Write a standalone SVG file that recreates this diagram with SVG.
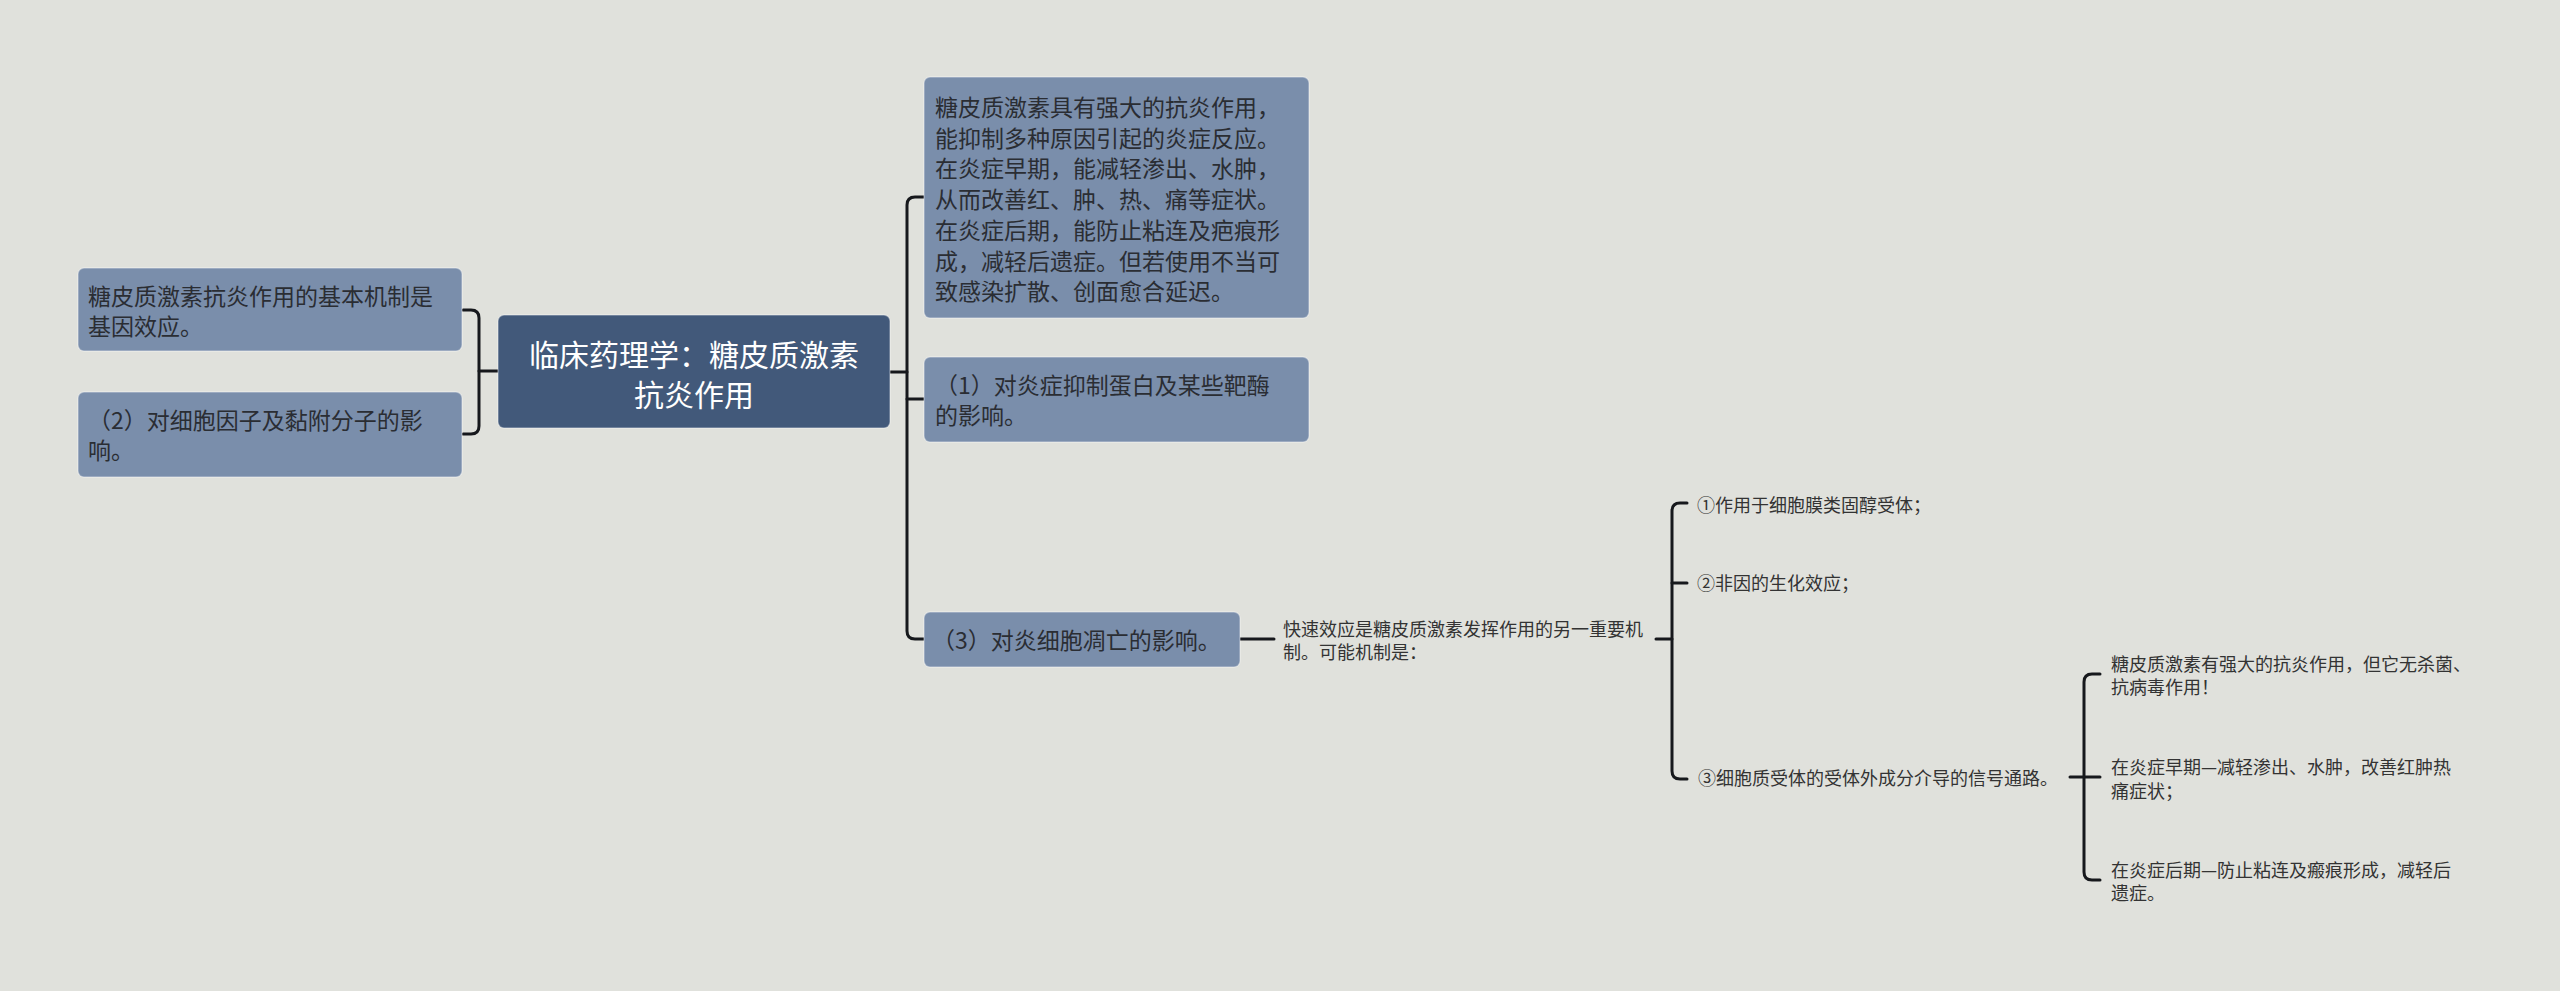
<svg xmlns="http://www.w3.org/2000/svg" width="2560" height="991" viewBox="0 0 2560 991">
<style>
.node{fill:#7a8eab;stroke:#ffffff;stroke-opacity:0.35;stroke-width:1.5}
.root{fill:#42597a;stroke:#ffffff;stroke-opacity:0.35;stroke-width:1.5}
.t{font-family:"Noto Sans CJK SC","Noto Sans",sans-serif;font-size:23px;fill:#2a2d33}
.rt{font-family:"Noto Sans CJK SC","Noto Sans",sans-serif;font-size:30px;fill:#ffffff;text-anchor:middle}
.s{font-family:"Noto Sans CJK SC","Noto Sans",sans-serif;font-size:18px;fill:#333333}
.c{fill:none;stroke:#16181c;stroke-width:3;stroke-linecap:round;stroke-linejoin:round}
</style>
<rect width="2560" height="991" fill="#e0e1dc"/>
<g id="connectors">
<path class="c" d="M498,371 H479"/>
<path class="c" d="M463,310 H471 Q479,310 479,318 V426 Q479,434 471,434 H463"/>
<path class="c" d="M890,372 H907"/>
<path class="c" d="M924,197 H915 Q907,197 907,205 V631 Q907,639 915,639 H924"/>
<path class="c" d="M907,399 H924"/>
<path class="c" d="M1240,639 H1274"/>
<path class="c" d="M1656,639 H1672"/>
<path class="c" d="M1687,503 H1680 Q1672,503 1672,511 V771 Q1672,779 1680,779 H1687"/>
<path class="c" d="M1672,583 H1687"/>
<path class="c" d="M2070,777 H2100"/>
<path class="c" d="M2100,674 H2092 Q2084,674 2084,682 V872 Q2084,880 2092,880 H2100"/>
</g>
<g id="root">
<rect class="root" x="498" y="315" width="392" height="113" rx="6"/>
<text class="rt" x="694" y="366">临床药理学：糖皮质激素</text>
<text class="rt" x="694" y="406">抗炎作用</text>
</g>
<g id="left1">
<rect class="node" x="78" y="268" width="384" height="83" rx="6"/>
<text class="t" x="88" y="305">糖皮质激素抗炎作用的基本机制是</text>
<text class="t" x="88" y="335">基因效应。</text>
</g>
<g id="left2">
<rect class="node" x="78" y="392" width="384" height="85" rx="6"/>
<text class="t" x="88" y="429">（2）对细胞因子及黏附分子的影</text>
<text class="t" x="88" y="459">响。</text>
</g>
<g id="right1">
<rect class="node" x="924" y="77" width="385" height="241" rx="6"/>
<text class="t" x="935" y="116">糖皮质激素具有强大的抗炎作用，</text>
<text class="t" x="935" y="147">能抑制多种原因引起的炎症反应。</text>
<text class="t" x="935" y="177">在炎症早期，能减轻渗出、水肿，</text>
<text class="t" x="935" y="208">从而改善红、肿、热、痛等症状。</text>
<text class="t" x="935" y="239">在炎症后期，能防止粘连及疤痕形</text>
<text class="t" x="935" y="270">成，减轻后遗症。但若使用不当可</text>
<text class="t" x="935" y="300">致感染扩散、创面愈合延迟。</text>
</g>
<g id="right2">
<rect class="node" x="924" y="357" width="385" height="85" rx="6"/>
<text class="t" x="935" y="394">（1）对炎症抑制蛋白及某些靶酶</text>
<text class="t" x="935" y="424">的影响。</text>
</g>
<g id="right3">
<rect class="node" x="924" y="612" width="316" height="55" rx="6"/>
<text class="t" x="932" y="649">（3）对炎细胞凋亡的影响。</text>
</g>
<g id="fast">
<text class="s" x="1283" y="636">快速效应是糖皮质激素发挥作用的另一重要机</text>
<text class="s" x="1283" y="659">制。可能机制是：</text>
</g>
<g id="m1"><text class="s" x="1697" y="512">①作用于细胞膜类固醇受体；</text></g>
<g id="m2"><text class="s" x="1697" y="590">②非因的生化效应；</text></g>
<g id="m3"><text class="s" x="1698" y="785">③细胞质受体的受体外成分介导的信号通路。</text></g>
<g id="c1">
<text class="s" x="2111" y="671">糖皮质激素有强大的抗炎作用，但它无杀菌、</text>
<text class="s" x="2111" y="694">抗病毒作用！</text>
</g>
<g id="c2">
<text class="s" x="2111" y="774">在炎症早期—减轻渗出、水肿，改善红肿热</text>
<text class="s" x="2111" y="798">痛症状；</text>
</g>
<g id="c3">
<text class="s" x="2111" y="877">在炎症后期—防止粘连及瘢痕形成，减轻后</text>
<text class="s" x="2111" y="900">遗症。</text>
</g>
</svg>
